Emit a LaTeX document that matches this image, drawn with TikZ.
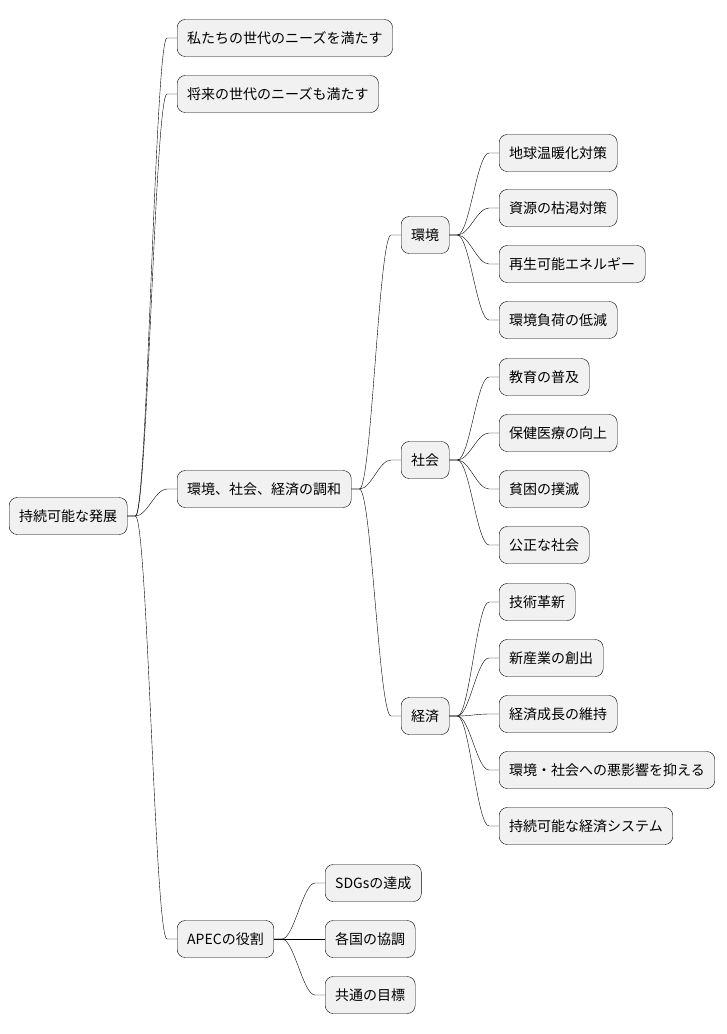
\documentclass[tikz,border=0pt]{standalone}
\usepackage{fontspec}
\newfontfamily\cjk{Noto Sans CJK JP}
\begin{document}
\begin{tikzpicture}[x=1pt,y=-1pt,
    topic/.style={draw,rounded corners=8pt,fill={rgb,255:red,241;green,241;blue,241},anchor=west,minimum height=37pt,inner xsep=10pt,font=\cjk\fontsize{14}{16}\selectfont},
    branch/.style={thin}]
\useasboundingbox (0,0) rectangle (726,1034);

\node[topic] (root) at (9,516) {持続可能な発展};

\node[topic] (a) at (177,38) {私たちの世代のニーズを満たす};
\node[topic] (b) at (177,94) {将来の世代のニーズも満たす};
\node[topic] (c) at (177,489) {環境、社会、経済の調和};
\node[topic] (d) at (177,939) {APECの役割};

\node[topic] (env) at (401,235) {環境};
\node[topic] (soc) at (401,460) {社会};
\node[topic] (eco) at (401,716) {経済};

\node[topic] (e1) at (499,153) {地球温暖化対策};
\node[topic] (e2) at (499,208) {資源の枯渇対策};
\node[topic] (e3) at (499,264) {再生可能エネルギー};
\node[topic] (e4) at (499,320) {環境負荷の低減};

\node[topic] (s1) at (499,377) {教育の普及};
\node[topic] (s2) at (499,433) {保健医療の向上};
\node[topic] (s3) at (499,489) {貧困の撲滅};
\node[topic] (s4) at (499,545) {公正な社会};

\node[topic] (k1) at (499,602) {技術革新};
\node[topic] (k2) at (499,658) {新産業の創出};
\node[topic] (k3) at (499,714) {経済成長の維持};
\node[topic] (k4) at (499,770) {環境・社会への悪影響を抑える};
\node[topic] (k5) at (499,826) {持続可能な経済システム};

\node[topic] (p1) at (325,883) {SDGsの達成};
\node[topic] (p2) at (325,939) {各国の協調};
\node[topic] (p3) at (325,995) {共通の目標};

\foreach \from/\to in {root/a,root/b,root/c,root/d,c/env,c/soc,c/eco,
    env/e1,env/e2,env/e3,env/e4,soc/s1,soc/s2,soc/s3,soc/s4,
    eco/k1,eco/k2,eco/k3,eco/k4,eco/k5,d/p1,d/p2,d/p3}
  \draw[branch] (\from.east) -- ++(8,0) .. controls +(12,0) and +(-12,0) .. ([xshift=-10pt]\to.west) -- (\to.west);
\end{tikzpicture}
\end{document}
